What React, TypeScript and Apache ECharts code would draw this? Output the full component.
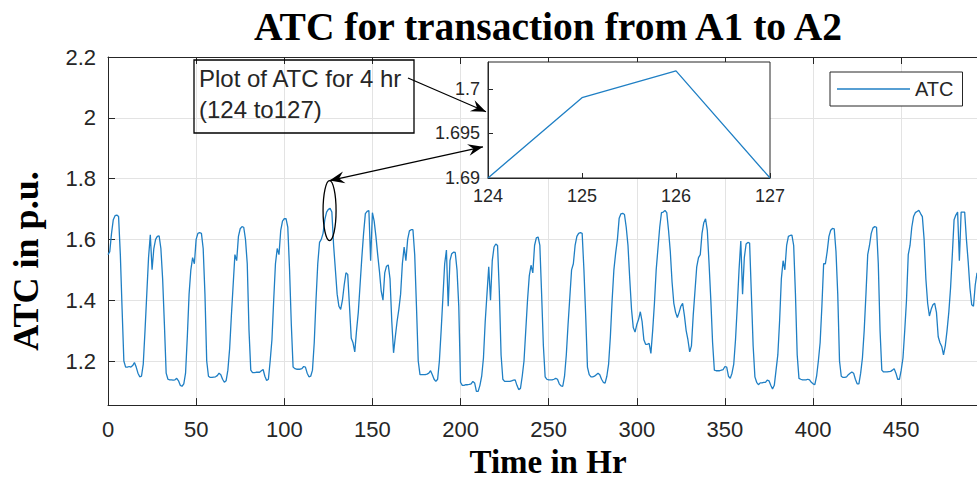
import React, { useEffect, useRef } from "react";
import * as echarts from "echarts";

// ATC (p.u.) per hour
// hours 0 - 167
const atcWeek1 = [
  1.55, 1.56, 1.62, 1.665, 1.678, 1.68, 1.675, 1.55, 1.37, 1.2, 1.18, 1.18,
  1.182, 1.18, 1.185, 1.195, 1.18, 1.16, 1.148, 1.15, 1.19, 1.3, 1.42, 1.54,
  1.615, 1.5, 1.57, 1.6, 1.61, 1.612, 1.57, 1.47, 1.32, 1.16, 1.14, 1.138,
  1.138, 1.137, 1.138, 1.143, 1.135, 1.12, 1.117, 1.125, 1.16, 1.28, 1.42, 1.5,
  1.54, 1.52, 1.6, 1.62, 1.622, 1.62, 1.57, 1.42, 1.2, 1.15, 1.146, 1.146,
  1.147, 1.148, 1.152, 1.16, 1.155, 1.14, 1.13, 1.135, 1.17, 1.24, 1.35, 1.45,
  1.55, 1.53, 1.61, 1.635, 1.642, 1.64, 1.6, 1.52, 1.3, 1.17, 1.162, 1.162,
  1.163, 1.163, 1.163, 1.168, 1.172, 1.15, 1.136, 1.14, 1.2, 1.27, 1.4, 1.52,
  1.57, 1.55, 1.63, 1.66, 1.668, 1.668, 1.64, 1.5, 1.32, 1.18, 1.175, 1.173,
  1.173, 1.173, 1.175, 1.182, 1.18, 1.16, 1.148, 1.15, 1.17, 1.26, 1.4, 1.52,
  1.59, 1.6, 1.62, 1.665, 1.69, 1.699, 1.702, 1.69, 1.58, 1.5, 1.42, 1.38,
  1.37, 1.4, 1.45, 1.49, 1.485, 1.38, 1.275, 1.26, 1.23, 1.3, 1.36, 1.45,
  1.54, 1.62, 1.685, 1.692, 1.695, 1.53, 1.688, 1.66, 1.61, 1.55, 1.495, 1.43,
  1.4, 1.49, 1.512, 1.516, 1.47, 1.33, 1.227, 1.28, 1.33, 1.37, 1.42, 1.52,
];
// hours 168 - 335
const atcWeek2 = [
  1.575, 1.53, 1.6, 1.628, 1.632, 1.632, 1.55, 1.38, 1.2, 1.155, 1.155, 1.155,
  1.155, 1.157, 1.16, 1.168, 1.155, 1.14, 1.133, 1.14, 1.2, 1.3, 1.41, 1.52,
  1.565, 1.38, 1.53, 1.553, 1.558, 1.557, 1.5, 1.38, 1.13, 1.12, 1.12, 1.122,
  1.122, 1.123, 1.125, 1.133, 1.128, 1.1, 1.1, 1.12, 1.15, 1.21, 1.33, 1.42,
  1.51, 1.4, 1.53, 1.575, 1.585, 1.58, 1.43, 1.22, 1.14, 1.133, 1.133, 1.133,
  1.133, 1.135, 1.137, 1.138, 1.12, 1.106, 1.11, 1.15, 1.2, 1.3, 1.4, 1.48,
  1.515, 1.49, 1.58, 1.605, 1.608, 1.58, 1.42, 1.25, 1.148, 1.14, 1.138, 1.138,
  1.138, 1.14, 1.143, 1.14, 1.125, 1.118, 1.117, 1.15, 1.22, 1.32, 1.41, 1.5,
  1.52, 1.58, 1.61, 1.62, 1.622, 1.62, 1.5, 1.35, 1.18, 1.155, 1.148, 1.148,
  1.15, 1.155, 1.16, 1.155, 1.14, 1.13, 1.127, 1.15, 1.19, 1.28, 1.4, 1.5,
  1.555, 1.6, 1.67, 1.684, 1.686, 1.682, 1.64, 1.58, 1.47, 1.37, 1.31, 1.295,
  1.32, 1.337, 1.362, 1.33, 1.27, 1.255, 1.255, 1.258, 1.225, 1.3, 1.39, 1.5,
  1.57, 1.64, 1.688, 1.69, 1.695, 1.688, 1.63, 1.56, 1.46, 1.39, 1.36, 1.343,
  1.36, 1.38, 1.39, 1.35, 1.3, 1.27, 1.23, 1.25, 1.35, 1.43, 1.51, 1.54,
];
// hours 336 - 493
const atcWeek3 = [
  1.55, 1.62, 1.655, 1.668, 1.63, 1.52, 1.4, 1.26, 1.17, 1.168, 1.168, 1.168,
  1.17, 1.172, 1.182, 1.18, 1.15, 1.143, 1.16, 1.19, 1.27, 1.38, 1.5, 1.595,
  1.42, 1.54, 1.585, 1.59, 1.588, 1.42, 1.25, 1.148, 1.13, 1.122, 1.128, 1.128,
  1.13, 1.13, 1.137, 1.135, 1.12, 1.108, 1.12, 1.17, 1.22, 1.33, 1.47, 1.53,
  1.5, 1.58, 1.61, 1.613, 1.614, 1.58, 1.42, 1.22, 1.143, 1.14, 1.138, 1.138,
  1.138, 1.14, 1.138, 1.13, 1.125, 1.122, 1.15, 1.2, 1.26, 1.38, 1.52, 1.52,
  1.56, 1.61, 1.63, 1.636, 1.635, 1.56, 1.42, 1.2, 1.15, 1.146, 1.146, 1.148,
  1.155, 1.16, 1.164, 1.16, 1.14, 1.125, 1.125, 1.16, 1.21, 1.3, 1.42, 1.55,
  1.58, 1.62, 1.638, 1.642, 1.64, 1.52, 1.3, 1.17, 1.164, 1.164, 1.164, 1.165,
  1.166, 1.17, 1.175, 1.16, 1.14, 1.14, 1.17, 1.21, 1.3, 1.4, 1.55, 1.58,
  1.64, 1.675, 1.688, 1.692, 1.696, 1.685, 1.675, 1.6, 1.47, 1.39, 1.348, 1.37,
  1.385, 1.39, 1.36, 1.28, 1.26, 1.248, 1.22, 1.25, 1.3, 1.36, 1.44, 1.55,
  1.665, 1.68, 1.69, 1.53, 1.69, 1.69, 1.69, 1.6, 1.527, 1.44, 1.385, 1.38, 1.45, 1.49,
];

const xTicks = [0, 50, 100, 150, 200, 250, 300, 350, 400, 450];
const yTicks = [1.2, 1.4, 1.6, 1.8, 2, 2.2];
const insetHours = [124, 125, 126, 127];
const insetYTicks = [1.69, 1.695, 1.7];
const titleText = "ATC for transaction from A1 to A2";
const xName = "Time in Hr";
const yName = "ATC in p.u.";
const seriesName = "ATC";
const annotationText = ["Plot of ATC for 4 hr", "(124 to127)"];

const SANS = '"Liberation Sans", Arial, Helvetica, sans-serif';
const SERIF = '"Liberation Serif", "Times New Roman", serif';
const AXIS = "#262626";
const GRIDC = "#e3e3e3";
const LINEC = "#1f7fc4";

function arrowHead(tip: number[], from: number[], len = 15, half = 6) {
  const dx = tip[0] - from[0];
  const dy = tip[1] - from[1];
  const d = Math.hypot(dx, dy) || 1;
  const ux = dx / d, uy = dy / d;
  const nx = -uy, ny = ux;
  return [
    [tip[0], tip[1]],
    [tip[0] - ux * len + nx * half, tip[1] - uy * len + ny * half],
    [tip[0] - ux * len * 0.65, tip[1] - uy * len * 0.65],
    [tip[0] - ux * len - nx * half, tip[1] - uy * len - ny * half],
  ];
}

export default function App() {
  const ref = useRef<HTMLDivElement>(null);

  useEffect(() => {
    if (!ref.current) return;
    const chart = echarts.init(ref.current, undefined, { renderer: "svg" });
    const values = [...atcWeek1, ...atcWeek2, ...atcWeek3];
    const mainData = values.map((v, i) => [i, v]);
    const insetData = insetHours.map((h) => [h, values[h]]);

    chart.setOption({
      animation: false,
      backgroundColor: "#ffffff",
      title: {
        text: titleText,
        left: 548,
        top: 7,
        padding: 0,
        textAlign: "center",
        textStyle: { fontFamily: SERIF, fontWeight: "bold", fontSize: 39.5, color: "#000" },
      },
      legend: {
        data: [{ name: seriesName, icon: "rect" }],
        left: 830,
        top: 72,
        padding: [7, 9, 7, 7],
        itemWidth: 73,
        itemHeight: 1.6,
        borderColor: AXIS,
        borderWidth: 1,
        backgroundColor: "#fff",
        textStyle: { fontFamily: SANS, fontSize: 20, color: AXIS },
        z: 10,
      },
      grid: [
        { left: 107, top: 57, right: 0, bottom: 67 },
        {
          left: 488, top: 62, width: 282, height: 116,
          show: true, backgroundColor: "#fff", borderColor: AXIS, borderWidth: 1, z: 5,
        },
      ],
      xAxis: [
        {
          type: "value", gridIndex: 0, position: "bottom", min: 0, max: 493,
          name: xName, nameLocation: "middle", nameGap: 38,
          nameTextStyle: { fontFamily: SERIF, fontWeight: "bold", fontSize: 33, color: "#000", padding: [0, 0, 0, 11] },
          axisLine: { show: true, lineStyle: { color: AXIS, width: 1 } },
          axisTick: { show: true, inside: true, length: 7, customValues: xTicks, lineStyle: { color: AXIS } },
          axisLabel: { customValues: xTicks, margin: 13, fontFamily: SANS, fontSize: 22, color: AXIS },
          splitLine: { show: true, lineStyle: { color: GRIDC, width: 1 } },
        },
        {
          type: "value", gridIndex: 0, position: "top", min: 0, max: 493,
          axisLine: { show: true, lineStyle: { color: AXIS, width: 1 } },
          axisTick: { show: true, inside: true, length: 7, customValues: xTicks, lineStyle: { color: AXIS } },
          axisLabel: { show: false },
          splitLine: { show: false },
        },
        {
          type: "value", gridIndex: 1, position: "bottom", min: 124, max: 127, interval: 1, z: 6,
          axisLine: { show: true, lineStyle: { color: AXIS, width: 1 } },
          axisTick: { show: true, inside: true, length: 5, lineStyle: { color: AXIS } },
          axisLabel: { margin: 9, fontFamily: SANS, fontSize: 18, color: AXIS },
          splitLine: { show: false },
        },
      ],
      yAxis: [
        {
          type: "value", gridIndex: 0, min: 1.055, max: 2.2,
          name: yName, nameLocation: "middle", nameGap: 64, nameRotate: 90,
          nameTextStyle: {
            fontFamily: SERIF, fontWeight: "bold", fontSize: 36, color: "#000",
            padding: [0, 60, 0, 0],
          },
          axisLine: { show: true, lineStyle: { color: AXIS, width: 1 } },
          axisTick: { show: true, inside: true, length: 7, customValues: yTicks, lineStyle: { color: AXIS } },
          axisLabel: { customValues: yTicks, margin: 12, fontFamily: SANS, fontSize: 22, color: AXIS },
          splitLine: { show: true, lineStyle: { color: GRIDC, width: 1 } },
        },
        {
          type: "value", gridIndex: 1, min: 1.69, max: 1.703, z: 6,
          axisLine: { show: true, lineStyle: { color: AXIS, width: 1 } },
          axisTick: { show: true, inside: true, length: 5, customValues: insetYTicks, lineStyle: { color: AXIS } },
          axisLabel: { customValues: insetYTicks, margin: 8, fontFamily: SANS, fontSize: 18, color: AXIS },
          splitLine: { show: false },
        },
      ],
      series: [
        {
          name: seriesName, type: "line", xAxisIndex: 0, yAxisIndex: 0,
          data: mainData, showSymbol: false, smooth: false,
          lineStyle: { color: LINEC, width: 1.3 }, itemStyle: { color: LINEC }, z: 2,
        },
        {
          name: seriesName + " 124-127", type: "line", xAxisIndex: 2, yAxisIndex: 1,
          data: insetData, showSymbol: false,
          lineStyle: { color: LINEC, width: 1.3 }, itemStyle: { color: LINEC }, z: 7,
        },
      ],
    });

    // annotations anchored to the axes
    const ell = chart.convertToPixel({ gridIndex: 0 }, [125.7, 1.695]) as number[];
    const insetTop = chart.convertToPixel({ gridIndex: 1 }, [124, 1.7]) as number[];
    const insetMid = chart.convertToPixel({ gridIndex: 1 }, [124, 1.6935]) as number[];
    const a1From = [408, 78];
    const a1Tip = [insetTop[0] - 2, insetTop[1] + 23];
    const a2Tail = [ell[0], ell[1] - 30];
    const a2Tip = [insetMid[0] - 5, insetMid[1]];

    const head = (tip: number[], from: number[]) => ({
      type: "polygon", z: 20, shape: { points: arrowHead(tip, from) }, style: { fill: "#000" },
    });

    chart.setOption({
      graphic: [
        {
          type: "rect", z: 20,
          shape: { x: 194, y: 60, width: 220, height: 73 },
          style: { fill: "none", stroke: "#000", lineWidth: 1.3 },
        },
        {
          type: "text", z: 21, x: 199, y: 63,
          style: { text: annotationText.join("\n"), font: `24px ${SANS}`, lineHeight: 31, fill: "#262626" },
        },
        {
          type: "line", z: 20,
          shape: { x1: a1From[0], y1: a1From[1], x2: a1Tip[0], y2: a1Tip[1] },
          style: { stroke: "#000", lineWidth: 1.3 },
        },
        head(a1Tip, a1From),
        {
          type: "line", z: 20,
          shape: { x1: a2Tail[0], y1: a2Tail[1], x2: a2Tip[0], y2: a2Tip[1] },
          style: { stroke: "#000", lineWidth: 1.3 },
        },
        head(a2Tip, a2Tail),
        head(a2Tail, a2Tip),
        {
          type: "ellipse", z: 20,
          shape: { cx: ell[0], cy: ell[1], rx: 6.5, ry: 30 },
          style: { fill: "none", stroke: "#000", lineWidth: 1.3 },
        },
      ],
    });

    return () => chart.dispose();
  }, []);

  return (
    <div
      ref={ref}
      style={{ position: "fixed", left: 0, top: 0, width: 977, height: 483, background: "#fff" }}
    />
  );
}
